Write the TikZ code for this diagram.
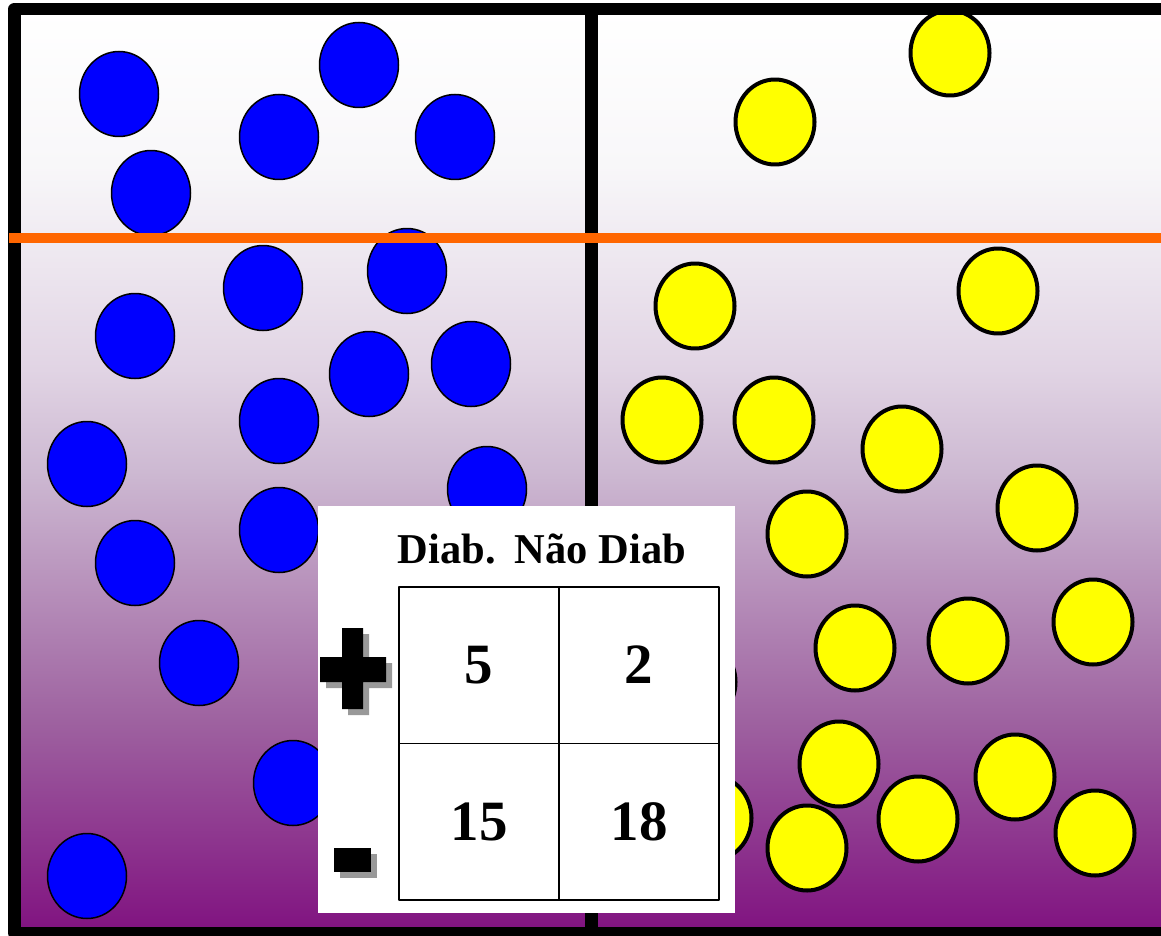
\documentclass[tikz,border=0pt]{standalone}
\usepackage{fontspec}
\setmainfont{Liberation Serif}
\usepackage{tikz}

\definecolor{fadeA}{RGB}{128,18,128}
\definecolor{fadeB}{RGB}{158,98,160}
\definecolor{fadeC}{RGB}{205,185,210}
\definecolor{fadeD}{RGB}{225,212,228}
\definecolor{fadeE}{RGB}{248,247,249}
\definecolor{cutline}{RGB}{255,102,0}
\definecolor{ballblue}{RGB}{0,0,255}
\definecolor{ballyellow}{RGB}{255,255,0}
\pgfdeclareverticalshading{bgfade}{100bp}{color(0bp)=(fadeA); color(25bp)=(fadeA); color(36.5bp)=(fadeB); color(50bp)=(fadeC); color(55.5bp)=(fadeD); color(66.5bp)=(fadeE); color(75bp)=(white); color(100bp)=(white)}

\begin{document}
\begin{tikzpicture}[x=1pt,y=-1pt,line join=round,
  blueball/.style={fill=ballblue,draw=black,line width=1.5pt},
  yellowball/.style={fill=ballyellow,draw=black,line width=4pt},
  shadowfill/.style={fill=black!40},
  cell/.style={draw,line width=1.5pt,minimum width=160pt,minimum height=156.5pt,inner sep=0pt,font=\bfseries\fontsize{57}{60}\selectfont}]
  \clip (0,0) rectangle (1161,936);
  \shade[shading=bgfade] (14,9) rectangle (1172,933);
  % diabetic (blue) and non diabetic (yellow)
  \foreach \bx/\by in {119/94,279/137,359/65,455/137,151/193,263/288,407/271,135/336,369/374,
      471/364,279/421,87/464,487/489,279/530,135/563,199/663,293/783,87/876}
    \draw[blueball] (\bx,\by) ellipse [x radius=39.5pt,y radius=42.5pt];
  \foreach \yx/\yy in {950/53,775/122,695/306,998/291,662/420,774/420,902/449,1037/508,807/534,
      855/648,968/641,1093/622,839/764,918/819,1015/777,1095/833,807/848,712/818,696/682}
    \draw[yellowball] (\yx,\yy) ellipse [x radius=39.5pt,y radius=42.5pt];
  \draw[line width=13pt] (591,9) -- (591,933);
  \draw[line width=12.5pt] (14.5,9) rectangle (1172,933);
  \draw[line width=10pt,cutline] (9,237.5) -- (1161,237.5);
  % table
  \fill[white] (318,506) rectangle (735,913);
  \node[anchor=base,font=\bfseries\fontsize{42.5}{48}\selectfont] (head) at (542,563) {Diab.\hspace{0.45em}Não Diab};
  \node[cell] (c11) at (479,665) {5};
  \node[cell] (c12) at (639,665) {2};
  \node[cell] (c21) at (479,821.5) {15};
  \node[cell] (c22) at (639,821.5) {18};
  \fill[shadowfill] (348,634) rectangle (369,715) (326,663) rectangle (392,688);
  \fill (342,628) rectangle (363,709) (320,657) rectangle (386,682);
  \fill[shadowfill] (340,854) rectangle (377,878);
  \fill (334,848) rectangle (371,872);
\end{tikzpicture}
\end{document}
